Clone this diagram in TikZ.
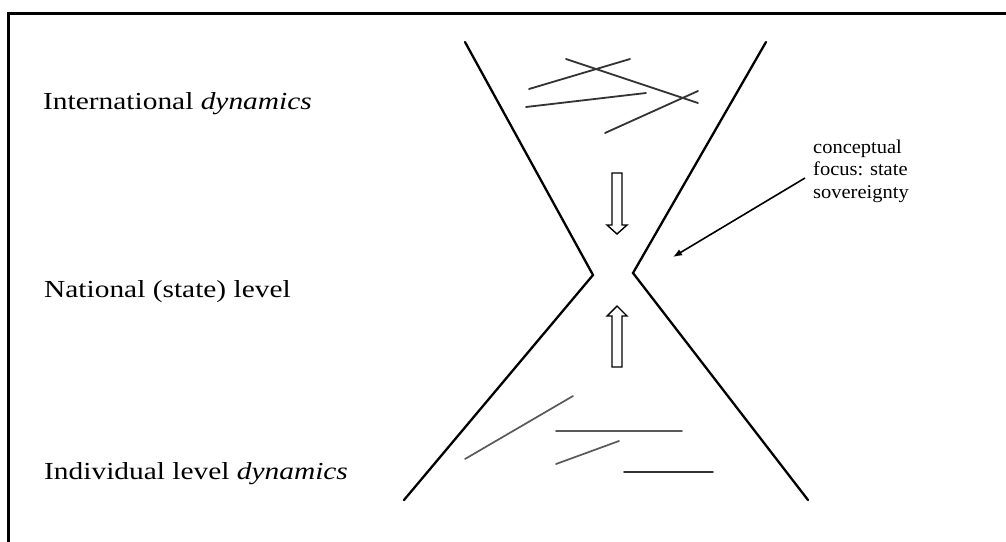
\documentclass[tikz,border=0pt]{standalone}
\usepackage{fontspec}
\setmainfont{Liberation Serif}
\newfontfamily\labelfont[FakeStretch=1.2]{Liberation Serif}
\newfontfamily\notefont[FakeStretch=1.05]{Liberation Serif}
\usetikzlibrary{arrows.meta}
\tikzset{
  hg/.style={line width=2.3pt, line cap=round, black},
  scrib/.style={line width=1.8pt, line cap=round, black!80},
  scribgray/.style={line width=1.7pt, line cap=round, black!65},
  blockarrow/.style={line width=1.4pt, black, fill=white, line join=miter},
  level/.style={anchor=base west, inner sep=0pt, font=\labelfont\fontsize{24.5}{28}\selectfont},
  note/.style={anchor=base west, inner sep=0pt, align=left, font=\notefont\fontsize{19.5}{22.5}\selectfont},
  pointer/.style={line width=1.6pt, -{Latex[length=9pt,width=7pt]}}
}
\begin{document}
\begin{tikzpicture}[x=1pt,y=-1pt]
\useasboundingbox (0,0) rectangle (1006,541);
\fill[white] (0,0) rectangle (1006,541);
% frame (only top and left edges visible)
\coordinate (fbl) at (8,545);
\coordinate (ftl) at (8,13);
\coordinate (ftr) at (1010,13);
\draw[line width=3pt] (fbl) -- (ftl) -- (ftr);

% hourglass
\coordinate (ul) at (465,42);
\coordinate (lv) at (593,275);
\coordinate (ll) at (404,500);
\coordinate (ur) at (766,42);
\coordinate (rv) at (633,273);
\coordinate (lr) at (808,500);
\draw[hg] (ul) -- (lv) -- (ll);
\draw[hg] (ur) -- (rv) -- (lr);

% top scribbles
\coordinate (t1a) at (529,89);  \coordinate (t1b) at (630,59);
\coordinate (t2a) at (566,59);  \coordinate (t2b) at (698,103);
\coordinate (t3a) at (526,107); \coordinate (t3b) at (646,93);
\coordinate (t4a) at (605,133); \coordinate (t4b) at (698,91);
\draw[scrib] (t1a) -- (t1b);
\draw[scrib] (t2a) -- (t2b);
\draw[scrib] (t3a) -- (t3b);
\draw[scrib] (t4a) -- (t4b);

% bottom scribbles
\coordinate (b1a) at (465,459); \coordinate (b1b) at (573,396);
\coordinate (b2a) at (556,431); \coordinate (b2b) at (682,431);
\coordinate (b3a) at (556,464); \coordinate (b3b) at (619,441);
\coordinate (b4a) at (624,472); \coordinate (b4b) at (713,472);
\draw[scribgray] (b1a) -- (b1b);
\draw[scribgray] (b2a) -- (b2b);
\draw[scribgray] (b3a) -- (b3b);
\draw[scrib] (b4a) -- (b4b);

% block arrows
\draw[blockarrow] (612,173) -- (622,173) -- (622,225) -- (627,225) -- (617,234) -- (607,225) -- (612,225) -- cycle;
\draw[blockarrow] (612,367) -- (622,367) -- (622,316) -- (627,316) -- (617,306) -- (607,316) -- (612,316) -- cycle;

% labels
\node[level] (intl) at (43,109) {International \textit{dynamics}};
\node[level] (natl) at (44,297) {National (state) level};
\node[level] (indiv) at (44,479) {Individual level \textit{dynamics}};

% annotation (base anchor = last line)
\node[note] (focus) at (813,198) {conceptual\\focus: state\\sovereignty};
\coordinate (ptail) at (805,178);
\coordinate (ptip) at (673,257);
\draw[pointer] (ptail) -- (ptip);
\end{tikzpicture}
\end{document}
